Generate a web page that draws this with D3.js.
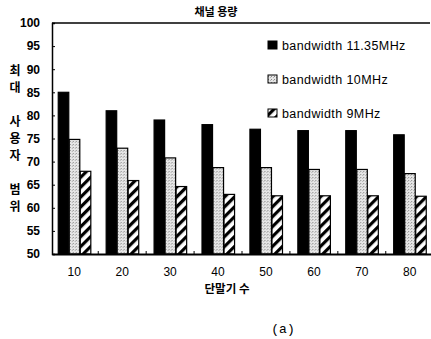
<!DOCTYPE html>
<html>
<head>
<meta charset="utf-8">
<script src="https://cdn.jsdelivr.net/npm/d3@7/dist/d3.min.js"></script>
<style>
    body { margin: 0; background: #fff; }
    svg { display: block; font-family: 'Liberation Sans', Arial, sans-serif; }
</style>
</head>
<body>
<div class="bar-chart"><svg></svg></div>
<script>
const terminals = ['10', '20', '30', '40', '50', '60', '70', '80'];
const seriesNames = ['bandwidth 11.35MHz', 'bandwidth 10MHz', 'bandwidth 9MHz'];
const bw1135 = [85, 81, 79, 78, 77, 76.7, 76.7, 75.8];
const bw10 = [74.8, 72.9, 70.8, 68.7, 68.7, 68.3, 68.3, 67.4];
const bw9 = [67.9, 65.9, 64.6, 62.9, 62.6, 62.6, 62.6, 62.5];
const yTicks = [50, 55, 60, 65, 70, 75, 80, 85, 90, 95, 100];
const yTitle = ['최', '대', '', '사', '용', '자', '', '범', '위'];

const w = 431;
const h = 339;
const margin = { top: 23, right: 1, bottom: 85, left: 52 };

const svg = d3.select('.bar-chart svg').attr('width', w).attr('height', h);
const defs = svg.append('defs');

// grey stipple
const dots = defs.append('pattern')
    .attr('id', 'stipple')
    .attr('width', 3)
    .attr('height', 3)
    .attr('patternUnits', 'userSpaceOnUse');
dots.append('rect').attr('width', 3).attr('height', 3).attr('fill', '#e6e6e6');
dots.append('rect').attr('x', 0).attr('y', 0).attr('width', 1).attr('height', 1).attr('fill', '#8a8a8a');
dots.append('rect').attr('x', 2).attr('y', 1).attr('width', 1).attr('height', 1).attr('fill', '#b0b0b0');

// diagonal hatch
const hatch = defs.append('pattern')
    .attr('id', 'hatch')
    .attr('width', 7)
    .attr('height', 7)
    .attr('patternUnits', 'userSpaceOnUse')
    .attr('patternTransform', 'rotate(45)');
hatch.append('rect').attr('width', 7).attr('height', 7).attr('fill', '#fff');
hatch.append('rect').attr('width', 3.2).attr('height', 7).attr('fill', '#000');

const fills = ['#000', 'url(#stipple)', 'url(#hatch)'];
const series = [bw1135, bw10, bw9];

const x = d3.scaleBand()
    .domain(terminals)
    .range([margin.left, 432])
    .paddingInner(0.31)
    .paddingOuter(0.12);

const xInner = d3.scaleBand()
    .domain(d3.range(series.length))
    .range([0, x.bandwidth()]);

const y = d3.scaleLinear()
    .domain([50, 100])
    .range([h - margin.bottom, margin.top]);

// bars
const groups = svg.append('g').attr('class', 'bars')
    .selectAll('g')
    .data(terminals)
    .join('g')
    .attr('transform', (d) => `translate(${x(d)},0)`);

groups.selectAll('rect')
    .data((d, i) => series.map((s, k) => ({ k, v: s[i] })))
    .join('rect')
    .attr('x', (d) => xInner(d.k) + 0.5)
    .attr('y', (d) => y(d.v))
    .attr('width', xInner.bandwidth() - 0.5)
    .attr('height', (d) => y(50) - y(d.v))
    .attr('fill', (d) => fills[d.k])
    .attr('stroke', '#000')
    .attr('stroke-width', 1.2);

// axes
const axisY = d3.axisLeft(y).tickValues(yTicks).tickSize(-3).tickPadding(12);
const gy = svg.append('g')
    .attr('class', 'axis axis-y')
    .attr('transform', `translate(${margin.left},0)`)
    .call(axisY);
gy.select('.domain').attr('stroke-width', 1.5);
gy.selectAll('text').attr('font-size', 12).attr('font-weight', 'bold').attr('fill', '#000');

const axisX = d3.axisBottom(x).tickSize(0).tickPadding(13);
const gx = svg.append('g')
    .attr('class', 'axis axis-x')
    .attr('transform', `translate(0,${y(50)})`)
    .call(axisX);
gx.select('.domain').attr('stroke-width', 2);
gx.selectAll('text').attr('font-size', 12).attr('fill', '#000');

// small ticks between the groups
gx.selectAll('.sep')
    .data(terminals.slice(1))
    .join('line')
    .attr('class', 'sep')
    .attr('x1', (d) => x(d) - x.step() * x.paddingInner() / 2)
    .attr('x2', (d) => x(d) - x.step() * x.paddingInner() / 2)
    .attr('y1', 0)
    .attr('y2', -3)
    .attr('stroke', '#000');

// top border
svg.append('line')
    .attr('x1', margin.left)
    .attr('x2', 430)
    .attr('y1', y(100))
    .attr('y2', y(100))
    .attr('stroke', '#000')
    .attr('stroke-width', 1.5);

// titles
svg.append('text')
    .attr('x', 216)
    .attr('y', 16)
    .attr('text-anchor', 'middle')
    .attr('font-size', 11)
    .attr('font-weight', 'bold')
    .attr('font-family', 'Noto Sans CJK KR')
    .text('채널 용량');

svg.append('g')
    .selectAll('text')
    .data(yTitle)
    .join('text')
    .attr('x', 15)
    .attr('y', (d, i) => 75 + i * 17)
    .attr('text-anchor', 'middle')
    .attr('font-size', 12)
    .attr('font-weight', 'bold')
    .attr('font-family', 'Noto Sans CJK KR')
    .text((d) => d);

svg.append('text')
    .attr('x', 227)
    .attr('y', 293)
    .attr('text-anchor', 'middle')
    .attr('font-size', 11.5)
    .attr('font-weight', 'bold')
    .attr('font-family', 'Noto Sans CJK KR')
    .text('단말기 수');

svg.append('text')
    .attr('x', 283)
    .attr('y', 333)
    .attr('text-anchor', 'middle')
    .attr('font-size', 13)
    .attr('font-family', 'Liberation Mono')
    .text('(a)');

// legend
const legend = svg.append('g')
    .attr('class', 'legend')
    .selectAll('g')
    .data(seriesNames)
    .join('g')
    .attr('transform', (d, i) => `translate(268,${45 + i * 34})`);

legend.append('rect')
    .attr('x', 0)
    .attr('y', -4)
    .attr('width', 9)
    .attr('height', 8)
    .attr('fill', (d, i) => fills[i])
    .attr('stroke', '#000')
    .attr('stroke-width', 1);

legend.append('text')
    .attr('x', 14)
    .attr('y', 4.5)
    .attr('font-size', 12.5)
    .attr('letter-spacing', 0.4)
    .text((d) => d);
</script>
</body>
</html>
